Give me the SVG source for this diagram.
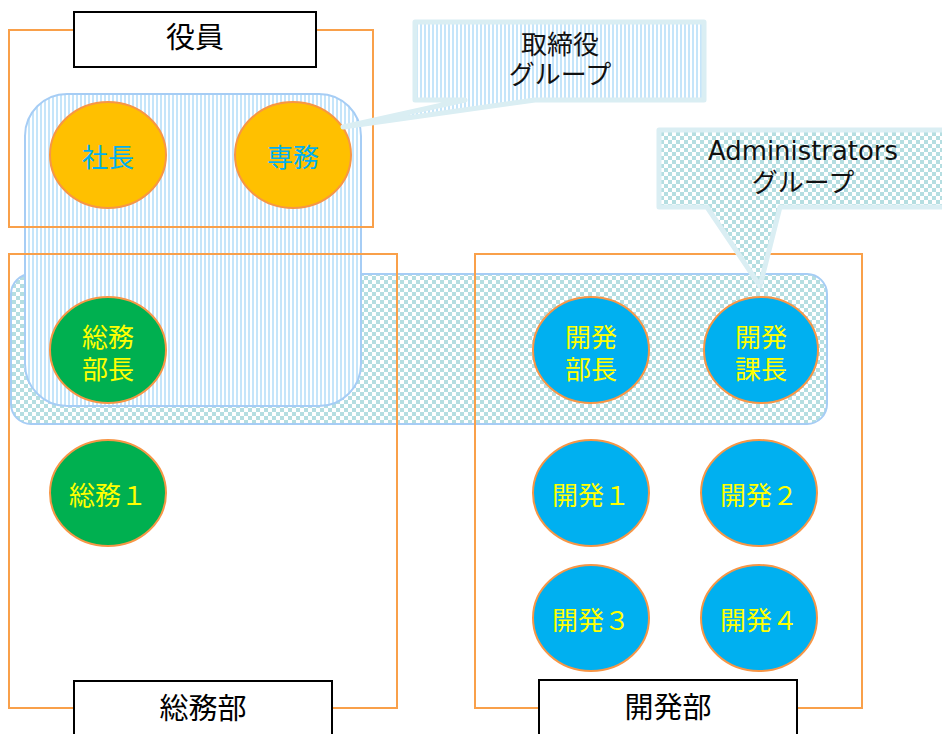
<svg xmlns="http://www.w3.org/2000/svg" width="942" height="734" viewBox="0 0 942 734">
<style>
text{font-family:"DejaVu Sans","Noto Sans CJK JP",sans-serif;text-anchor:middle;dominant-baseline:central}
.dept{fill:none;stroke:#F9A04A;stroke-width:2}
.grp{stroke:#A6CDF5;stroke-width:2}
.lbl{fill:#fff;stroke:#000;stroke-width:2}
.lbl-t{font-size:29px;fill:#000}
.call{stroke:#DAEEF3;stroke-width:5;stroke-linejoin:round}
.call-t{font-size:26px;fill:#111}
.c{stroke:#F79646;stroke-width:2}
.ex{fill:#FFC000}
.gr{fill:#00B050}
.bl{fill:#00B0F0}
.t-b{font-size:26px;fill:#00B0F0}
.t-y{font-size:26px;fill:#FFFF00}
</style>
<defs>
<pattern id="stripe" width="4" height="4" patternUnits="userSpaceOnUse"><rect width="4" height="4" fill="#fff"/><rect width="2" height="4" fill="#C5E5FA"/></pattern>
<pattern id="checker" width="8" height="8" patternUnits="userSpaceOnUse"><rect width="8" height="8" fill="#fff"/><rect width="4" height="4" fill="#B5DEE1"/><rect x="4" y="4" width="4" height="4" fill="#B5DEE1"/></pattern>
</defs>
<rect width="942" height="734" fill="#fff"/>

<g id="admin-group">
<rect class="grp" x="11" y="274" width="816" height="150" rx="20" fill="url(#checker)"/>
</g>
<g id="board-group">
<rect class="grp" x="25" y="94" width="336" height="312" rx="42" fill="url(#stripe)"/>
</g>

<g id="dept-yakuin"><rect class="dept" x="9" y="30" width="364" height="197"/></g>
<g id="dept-somu"><rect class="dept" x="9" y="254" width="388" height="454"/></g>
<g id="dept-kaihatsu"><rect class="dept" x="475" y="254" width="387" height="454"/></g>

<g id="shacho"><ellipse class="c ex" cx="108" cy="155" rx="58" ry="53"/><text class="t-b" x="108" y="158">社長</text></g>
<g id="senmu"><ellipse class="c ex" cx="293" cy="155" rx="58" ry="53"/><text class="t-b" x="293" y="158">専務</text></g>
<g id="somu-bucho"><ellipse class="c gr" cx="108" cy="350" rx="58" ry="53"/><text class="t-y" x="108" y="338">総務<tspan x="108" dy="32">部長</tspan></text></g>
<g id="somu1"><ellipse class="c gr" cx="108" cy="493" rx="58" ry="53"/><text class="t-y" x="108" y="496">総務１</text></g>
<g id="kaihatsu-bucho"><ellipse class="c bl" cx="591" cy="350" rx="58" ry="53"/><text class="t-y" x="591" y="338">開発<tspan x="591" dy="32">部長</tspan></text></g>
<g id="kaihatsu-kacho"><ellipse class="c bl" cx="761" cy="350" rx="57" ry="53"/><text class="t-y" x="761" y="338">開発<tspan x="761" dy="32">課長</tspan></text></g>
<g id="kaihatsu1"><ellipse class="c bl" cx="591" cy="493" rx="58" ry="53"/><text class="t-y" x="591" y="496">開発１</text></g>
<g id="kaihatsu2"><ellipse class="c bl" cx="759" cy="493" rx="58" ry="53"/><text class="t-y" x="759" y="496">開発２</text></g>
<g id="kaihatsu3"><ellipse class="c bl" cx="591" cy="618" rx="58" ry="53"/><text class="t-y" x="591" y="621">開発３</text></g>
<g id="kaihatsu4"><ellipse class="c bl" cx="759" cy="618" rx="58" ry="53"/><text class="t-y" x="759" y="621">開発４</text></g>

<g id="callout-board">
<path class="call" fill="url(#stripe)" d="M415,22 H704 V100 H535 L343,127 L465,100 H415 Z"/>
<text class="call-t" x="560" y="45">取締役<tspan x="560" dy="30">グループ</tspan></text>
</g>
<g id="callout-admin">
<path class="call" fill="url(#checker)" d="M659,130 H960 V207 H780 L760,286 L707,207 H659 Z"/>
<text class="call-t" x="803" y="151"><tspan x="803" textLength="190" lengthAdjust="spacingAndGlyphs">Administrators</tspan><tspan x="803" dy="32">グループ</tspan></text>
</g>

<g id="label-yakuin"><rect class="lbl" x="74" y="12" width="242" height="55"/><text class="lbl-t" x="195" y="38">役員</text></g>
<g id="label-somu"><rect class="lbl" x="74" y="681" width="258" height="80"/><text class="lbl-t" x="203" y="709">総務部</text></g>
<g id="label-kaihatsu"><rect class="lbl" x="539" y="680" width="258" height="80"/><text class="lbl-t" x="668" y="708">開発部</text></g>

<g id="connectors"></g>
</svg>
